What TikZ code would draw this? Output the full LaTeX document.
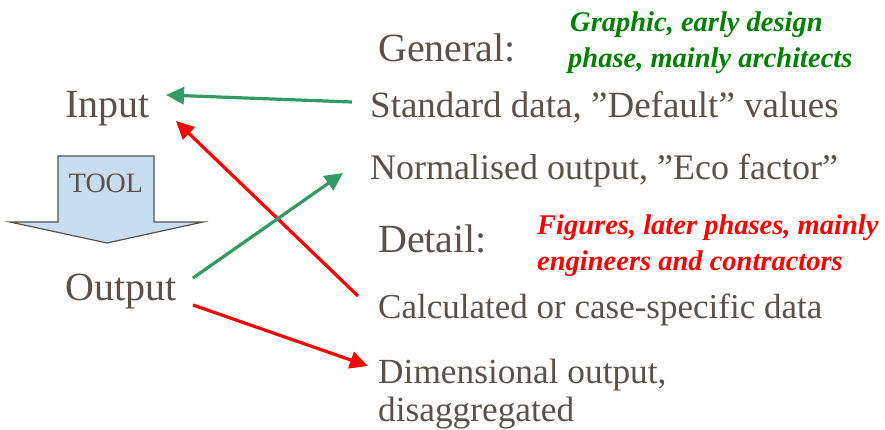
\documentclass[tikz,border=0pt]{standalone}
\usepackage{fontspec}
\setmainfont{Liberation Serif}
\usetikzlibrary{arrows.meta}
\definecolor{txt}{HTML}{5A524A}
\definecolor{grn}{HTML}{339966}
\definecolor{dgrn}{HTML}{008000}
\definecolor{toolfill}{HTML}{C9DDF0}
\begin{document}
\begin{tikzpicture}[x=1pt,y=-1pt,
  big/.style={anchor=base west,inner sep=0pt,text=txt,font=\fontsize{40}{44}\selectfont},
  item/.style={anchor=base west,inner sep=0pt,text=txt,font=\fontsize{#1}{38}\selectfont},
  item/.default=37,
  note/.style={anchor=base west,inner sep=0pt,font=\fontsize{28.5}{36}\selectfont\bfseries\itshape},
  conn/.style={line width=3.2pt,-{Triangle[length=18pt,width=17pt]}}]
\useasboundingbox (0,0) rectangle (885,430);
% tool arrow
\draw[fill=toolfill,draw=txt,line width=1.2pt] (58,156) -- (154,156) -- (154,222) -- (203,222) -- (107,243) -- (10,222) -- (58,222) -- cycle;
\node[anchor=base,inner sep=0pt,text=txt,font=\fontsize{28}{30}\selectfont] (tool) at (106,193) {TOOL};
% texts
\node[big] (input) at (65,118) {Input};
\node[big] (output) at (65,300) {Output};
\node[big] (general) at (378,62) {General:};
\node[big] (detail) at (378,252) {Detail:};
\node[item=37] (std) at (370,118) {Standard data, ”Default” values};
\node[item=36] (norm) at (370,180) {Normalised output, ”Eco factor”};
\node[item=35] (calc) at (378,318) {Calculated or case-specific data};
\node[item=35.3] (dim1) at (378,383) {Dimensional output,};
\node[item=35.3] (dim2) at (378,421) {disaggregated};
\node[note,text=dgrn] (gnote1) at (570,32) {Graphic, early design};
\node[note,text=dgrn] (gnote2) at (568,68) {phase, mainly architects};
\node[note,text=red] (rnote1) at (537,235) {Figures, later phases, mainly};
\node[note,text=red] (rnote2) at (537,270) {engineers and contractors};
% connector ends
\coordinate (a1) at (352,102);
\coordinate (a2) at (166,95);
\coordinate (b1) at (358,296);
\coordinate (b2) at (176,121);
\coordinate (c1) at (193,278);
\coordinate (c2) at (343,173);
\coordinate (d1) at (193,305);
\coordinate (d2) at (368,366);
\draw[conn,grn] (a1) -- (a2);
\draw[conn,red] (b1) -- (b2);
\draw[conn,grn] (c1) -- (c2);
\draw[conn,red] (d1) -- (d2);
\end{tikzpicture}
\end{document}
